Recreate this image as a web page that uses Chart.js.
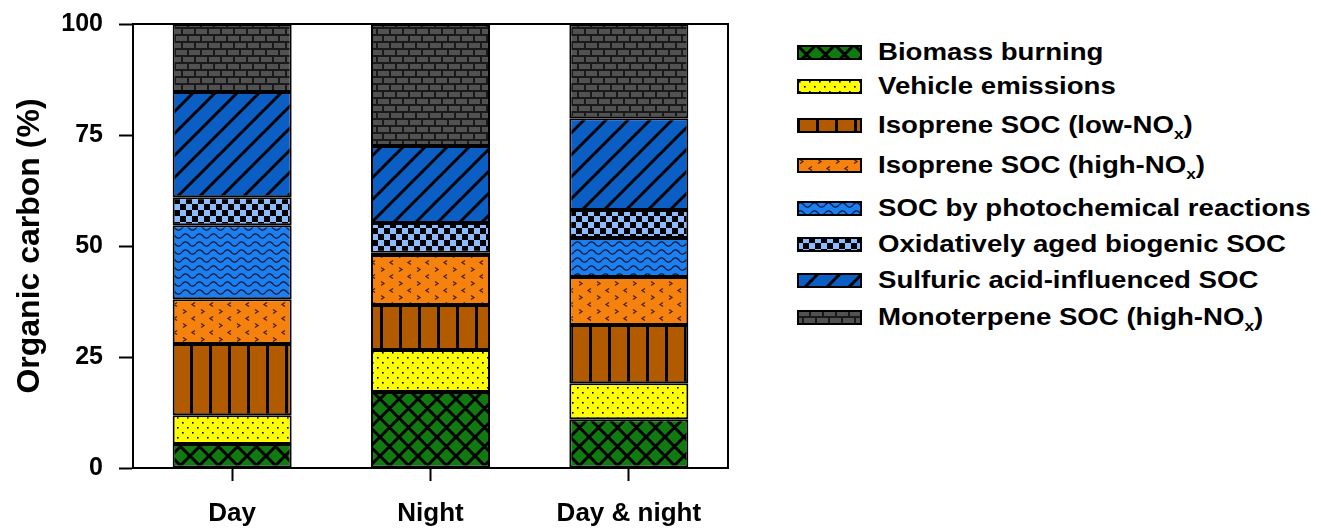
<!DOCTYPE html>
<html>
<head>
<meta charset="utf-8">
<script src="https://cdn.jsdelivr.net/npm/chart.js@4.4.0/dist/chart.umd.min.js"></script>
<style>
  html, body { margin: 0; padding: 0; background: #fff; }
  #wrap { position: relative; width: 1321px; height: 528px; overflow: hidden; }
  #chart { position: absolute; left: 0; top: 0; }
  #legend { position: absolute; left: 797px; top: 0; font: bold 24px "Liberation Sans", Arial, sans-serif; color: #000; }
  .item { position: absolute; left: 0; display: flex; align-items: center; white-space: nowrap; height: 30px; margin-top: -15px; }
  .item canvas { display: block; }
  .item span { margin-left: 16px; display: inline-block; transform: scaleX(1.15); transform-origin: left center; }
  sub { font-size: 15px; vertical-align: -6px; line-height: 0; }
</style>
</head>
<body>
<div id="wrap">
  <canvas id="chart" width="760" height="528"></canvas>
  <div id="legend"></div>
</div>
<script>
const categories = ['Day', 'Night', 'Day & night'];
const yTicks = [0, 25, 50, 75, 100];

// organic carbon share (%) per source, stacked bottom to top
const biomassBurning = [5.4, 17.1, 11.0];
const vehicleEmissions = [6.5, 9.5, 8.1];
const isopreneLowNOx = [16.0, 10.1, 13.1];
const isopreneHighNOx = [10.1, 11.3, 10.8];
const photochemicalSOC = [16.7, 0.5, 8.8];
const agedBiogenicSOC = [6.3, 6.7, 6.3];
const sulfuricAcidSOC = [23.7, 17.3, 20.7];
const monoterpeneHighNOx = [15.3, 27.5, 21.2];

const FONT = '"Liberation Sans", Arial, sans-serif';

// --- fill patterns -------------------------------------------------------
function tile(w, h, bg, draw) {
  const c = document.createElement('canvas');
  c.width = w; c.height = h;
  const g = c.getContext('2d');
  g.fillStyle = bg;
  g.fillRect(0, 0, w, h);
  g.strokeStyle = '#000';
  g.fillStyle = '#000';
  draw(g, w, h);
  return c;
}

function lines(g, w, h, segs, width) {
  g.lineWidth = width;
  g.beginPath();
  for (const ox of [-w, 0, w]) {
    for (const oy of [-h, 0, h]) {
      for (const s of segs) {
        g.moveTo(s[0] + ox, s[1] + oy);
        g.lineTo(s[2] + ox, s[3] + oy);
      }
    }
  }
  g.stroke();
}

const tiles = {
  crosshatch: tile(19, 19, '#107a10', (g, w, h) => lines(g, w, h, [[0, 0, w, h], [w, 0, 0, h]], 3)),
  dots: tile(10, 10, '#ffff00', g => {
    g.fillRect(2, 2, 1.6, 1.6);
    g.fillRect(7, 7, 1.6, 1.6);
  }),
  vlines: tile(19, 4, '#b25a00', g => g.fillRect(0, 0, 3, 4)),
  chevrons: tile(18, 14, '#f5820f', g => {
    g.strokeStyle = '#4a2000';
    g.lineWidth = 1.3;
    g.beginPath();
    g.moveTo(3, 1.5); g.lineTo(6, 3.5); g.lineTo(3, 5.5);
    g.moveTo(15, 8.5); g.lineTo(12, 10.5); g.lineTo(15, 12.5);
    g.stroke();
  }),
  waves: tile(14, 8, '#1b7ff0', g => {
    g.strokeStyle = '#0a1a3a';
    g.lineWidth = 1.3;
    g.beginPath();
    for (let x = 0; x <= 14; x += 0.5) {
      const y = 4 - 2.2 * Math.sin(2 * Math.PI * x / 14);
      if (x === 0) g.moveTo(x, y); else g.lineTo(x, y);
    }
    g.stroke();
  }),
  checker: tile(12, 12, '#8cbcff', g => {
    g.fillRect(0, 0, 6, 6);
    g.fillRect(6, 6, 6, 6);
  }),
  diagonal: tile(22, 22, '#0b5ec4', (g, w, h) => lines(g, w, h, [[0, h, w, 0]], 3)),
  brick: tile(26, 14, '#1a1a1a', g => {
    g.fillStyle = '#525252';
    g.fillRect(1, 1, 11, 5); g.fillRect(14, 1, 11, 5);
    g.fillRect(-6, 8, 11, 5); g.fillRect(7, 8, 11, 5); g.fillRect(20, 8, 11, 5);
  })
};

const series = [
  { label: 'Biomass burning', html: 'Biomass burning', data: biomassBurning, fill: 'crosshatch' },
  { label: 'Vehicle emissions', html: 'Vehicle emissions', data: vehicleEmissions, fill: 'dots' },
  { label: 'Isoprene SOC (low-NOx)', html: 'Isoprene SOC (low-NO<sub>x</sub>)', data: isopreneLowNOx, fill: 'vlines' },
  { label: 'Isoprene SOC (high-NOx)', html: 'Isoprene SOC (high-NO<sub>x</sub>)', data: isopreneHighNOx, fill: 'chevrons' },
  { label: 'SOC by photochemical reactions', html: 'SOC by photochemical reactions', data: photochemicalSOC, fill: 'waves' },
  { label: 'Oxidatively aged biogenic SOC', html: 'Oxidatively aged biogenic SOC', data: agedBiogenicSOC, fill: 'checker' },
  { label: 'Sulfuric acid-influenced SOC', html: 'Sulfuric acid-influenced SOC', data: sulfuricAcidSOC, fill: 'diagonal' },
  { label: 'Monoterpene SOC (high-NOx)', html: 'Monoterpene SOC (high-NO<sub>x</sub>)', data: monoterpeneHighNOx, fill: 'brick' }
];

const canvas = document.getElementById('chart');
const ctx = canvas.getContext('2d');

// draws the top and right edges of the plot frame
const frame = {
  id: 'frame',
  afterDraw(chart) {
    const { ctx, chartArea: a } = chart;
    ctx.save();
    ctx.strokeStyle = '#000';
    ctx.lineWidth = 2;
    ctx.beginPath();
    ctx.moveTo(a.left, a.top);
    ctx.lineTo(a.right, a.top);
    ctx.lineTo(a.right, a.bottom);
    ctx.stroke();
    ctx.restore();
  }
};

new Chart(ctx, {
  type: 'bar',
  data: {
    labels: categories,
    datasets: series.map(s => ({
      label: s.label,
      data: s.data,
      backgroundColor: ctx.createPattern(tiles[s.fill], 'repeat'),
      borderColor: '#000',
      borderWidth: 2,
      borderSkipped: false,
      barPercentage: 0.6,
      categoryPercentage: 1
    }))
  },
  options: {
    responsive: false,
    animation: false,
    devicePixelRatio: 1,
    layout: { padding: { left: 0, top: 24, right: 32, bottom: 0 } },
    plugins: {
      legend: { display: false },
      tooltip: { enabled: false }
    },
    scales: {
      x: {
        stacked: true,
        grid: { drawOnChartArea: false, offset: false, tickLength: 13, tickWidth: 2, tickColor: '#000' },
        border: { color: '#000', width: 2 },
        ticks: { color: '#000', padding: 17, font: { family: FONT, weight: 'bold', size: 26 } },
        afterFit(s) { s.height = 60; }
      },
      y: {
        stacked: true,
        min: 0,
        max: 100,
        afterBuildTicks(s) { s.ticks = yTicks.map(v => ({ value: v })); },
        grid: { drawOnChartArea: false, tickLength: 14, tickWidth: 2, tickColor: '#000' },
        border: { color: '#000', width: 2 },
        ticks: { color: '#000', padding: 16, font: { family: FONT, weight: 'bold', size: 25 } },
        title: {
          display: true,
          text: 'Organic carbon (%)',
          color: '#000',
          padding: { top: 11, bottom: 0 },
          font: { family: FONT, weight: 'bold', size: 32 }
        },
        afterFit(s) {
          s.width = 133;
          // let the outer layout padding decide where the plot starts
          s.paddingTop = 0;
          s.paddingBottom = 0;
        }
      }
    }
  },
  plugins: [frame]
});

// legend with the same fills
const rowY = [52, 86, 125, 165, 208, 244, 280, 317];
const legend = document.getElementById('legend');
series.forEach((s, i) => {
  const row = document.createElement('div');
  row.className = 'item';
  row.style.top = rowY[i] + 'px';
  const box = document.createElement('canvas');
  box.width = 65; box.height = 15;
  const g = box.getContext('2d');
  g.fillStyle = g.createPattern(tiles[s.fill], 'repeat');
  g.fillRect(0, 0, 65, 15);
  g.strokeStyle = '#000';
  g.lineWidth = 2;
  g.strokeRect(1, 1, 63, 13);
  const text = document.createElement('span');
  text.innerHTML = s.html;
  row.appendChild(box);
  row.appendChild(text);
  legend.appendChild(row);
});
</script>
</body>
</html>
